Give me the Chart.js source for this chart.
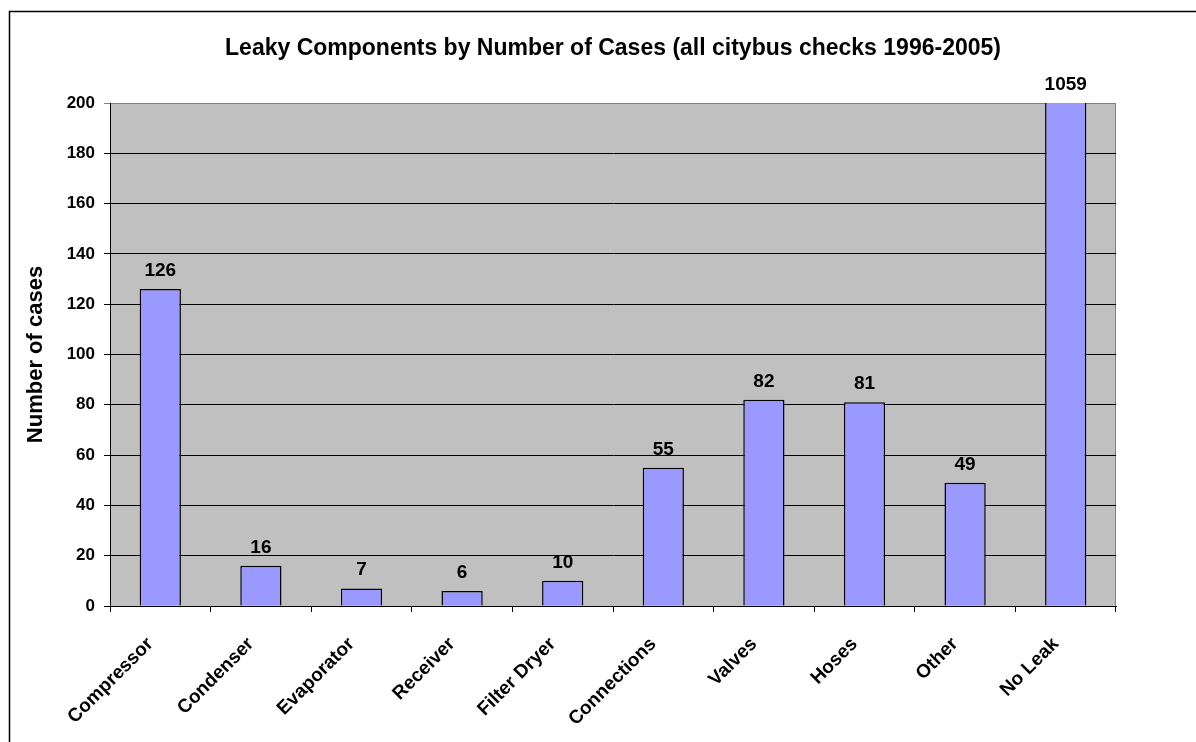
<!DOCTYPE html>
<html>
<head>
<meta charset="utf-8">
<title>Leaky Components by Number of Cases</title>
<script src="https://cdn.jsdelivr.net/npm/chart.js@4.4.0/dist/chart.umd.min.js"></script>
<style>
    html, body { margin: 0; padding: 0; background: #fff; }
    canvas { display: block; }
</style>
</head>
<body>
<canvas id="leakChart" width="1196" height="742"></canvas>
<script>
// Chart data
const components = ['Compressor', 'Condenser', 'Evaporator', 'Receiver', 'Filter Dryer',
    'Connections', 'Valves', 'Hoses', 'Other', 'No Leak'];
const cases = [126, 16, 7, 6, 10, 55, 82, 81, 49, 1059];
const yMin = 0;
const yMax = 200;
const yStep = 20;

const chartTitle = 'Leaky Components by Number of Cases (all citybus checks 1996-2005)';
const yTitle = 'Number of cases';

const FONT = '"Liberation Sans", Arial, sans-serif';

// Outer chart frame
const framePlugin = {
    id: 'frame',
    beforeDraw(chart) {
        const ctx = chart.ctx;
        ctx.save();
        ctx.strokeStyle = '#000';
        ctx.lineWidth = 1.5;
        ctx.strokeRect(9.5, 11.5, chart.width + 20, chart.height + 20);
        ctx.restore();
    }
};

// Grey plot area with grey top/right edge
const plotAreaPlugin = {
    id: 'plotArea',
    beforeDraw(chart) {
        const { ctx, chartArea } = chart;
        ctx.save();
        ctx.fillStyle = '#c0c0c0';
        ctx.fillRect(chartArea.left, chartArea.top, chartArea.width, chartArea.height);
        ctx.strokeStyle = '#808080';
        ctx.lineWidth = 1;
        ctx.strokeRect(chartArea.left + 0.5, chartArea.top + 0.5, chartArea.width - 1, chartArea.height);
        ctx.restore();
    }
};

// Value labels above each bar (clipped bars get their label at the top of the plot)
const valueLabelPlugin = {
    id: 'valueLabels',
    afterDatasetsDraw(chart) {
        const { ctx, chartArea } = chart;
        const meta = chart.getDatasetMeta(0);
        ctx.save();
        ctx.font = 'bold 19px ' + FONT;
        ctx.fillStyle = '#000';
        ctx.textAlign = 'center';
        ctx.textBaseline = 'alphabetic';
        meta.data.forEach((bar, i) => {
            const top = Math.max(bar.y, chartArea.top);
            ctx.fillText(String(chart.data.datasets[0].data[i]), bar.x, top - 13);
        });
        ctx.restore();
    }
};

const ctx = document.getElementById('leakChart').getContext('2d');
new Chart(ctx, {
    type: 'bar',
    data: {
        labels: components,
        datasets: [{
            label: yTitle,
            data: cases,
            backgroundColor: '#9999ff',
            borderColor: '#000',
            borderWidth: 1.5,
            borderSkipped: 'bottom',
            barPercentage: 0.41,
            categoryPercentage: 1
        }]
    },
    options: {
        responsive: false,
        animation: false,
        devicePixelRatio: 1,
        layout: {
            padding: { left: 0, right: 80, top: 0, bottom: 0 }
        },
        plugins: {
            legend: { display: false },
            tooltip: { enabled: false },
            title: {
                display: true,
                text: chartTitle,
                fullSize: false,
                color: '#000',
                font: { family: FONT, size: 23, weight: 'bold', lineHeight: 1.2 },
                padding: { top: 35, bottom: 40.4 }
            }
        },
        scales: {
            x: {
                afterFit(scale) { scale.height = 136; },
                border: { color: '#000', width: 1 },
                grid: {
                    offset: true,
                    drawOnChartArea: false,
                    drawTicks: true,
                    tickLength: 6,
                    color: '#000'
                },
                ticks: {
                    color: '#000',
                    font: { family: FONT, size: 19, weight: 'bold' },
                    minRotation: 45,
                    maxRotation: 45,
                    autoSkip: false,
                    padding: 21,
                    labelOffset: -10
                }
            },
            y: {
                min: yMin,
                max: yMax,
                afterFit(scale) { scale.width = 110; },
                border: { color: '#000', width: 1 },
                grid: {
                    color: (c) => (c.tick && c.tick.value === yMax ? '#808080' : '#000'),
                    tickLength: 6,
                    drawTicks: true
                },
                ticks: {
                    stepSize: yStep,
                    color: '#000',
                    padding: 9,
                    font: { family: FONT, size: 17, weight: 'bold' }
                },
                title: {
                    display: true,
                    text: yTitle,
                    color: '#000',
                    font: { family: FONT, size: 22, weight: 'bold', lineHeight: 1.2 },
                    padding: { top: 23, bottom: 0 }
                }
            }
        }
    },
    plugins: [framePlugin, plotAreaPlugin, valueLabelPlugin]
});
</script>
</body>
</html>
